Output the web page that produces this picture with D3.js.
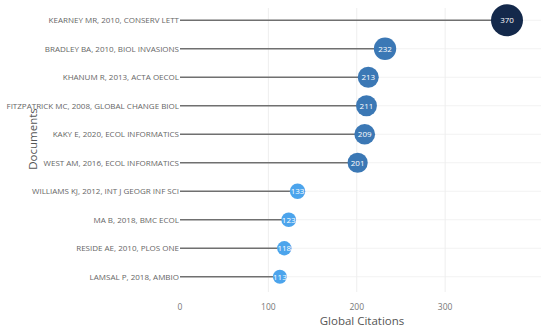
<!DOCTYPE html>
<html>
<head>
<meta charset="utf-8">
<script src="https://cdn.jsdelivr.net/npm/d3@7"></script>
<style>
  body { margin: 0; background: #fff; }
  text { font-family: "Open Sans", sans-serif; }
</style>
</head>
<body>
<div id="chart"></div>
<script>
// documents, top to bottom
var docs = [
  "KEARNEY MR, 2010, CONSERV LETT",
  "BRADLEY BA, 2010, BIOL INVASIONS",
  "KHANUM R, 2013, ACTA OECOL",
  "FITZPATRICK MC, 2008, GLOBAL CHANGE BIOL",
  "KAKY E, 2020, ECOL INFORMATICS",
  "WEST AM, 2016, ECOL INFORMATICS",
  "WILLIAMS KJ, 2012, INT J GEOGR INF SCI",
  "MA B, 2018, BMC ECOL",
  "RESIDE AE, 2010, PLOS ONE",
  "LAMSAL P, 2018, AMBIO"
];
var citations = [370, 232, 213, 211, 209, 201, 133, 123, 118, 113];
var xTicks = [0, 100, 200, 300];

var W = 550, H = 330;
var svg = d3.select("#chart").append("svg")
  .attr("width", W).attr("height", H);

var x = d3.scaleLinear().domain([0, 413]).range([180, 545]);
var y = d3.scaleBand().domain(docs).range([6, 291]).paddingInner(0).paddingOuter(0);
var r = d3.scaleLinear().domain([113, 370]).range([7, 16]);
var color = function(v) {
  if (v >= 300) return "#14294b";
  if (v >= 180) return "#3b78b5";
  return "#4ca4ec";
};
var cy = function(d) { return y(d) + y.bandwidth() / 2; };

// grid
svg.append("g").selectAll("line.h")
  .data(docs).enter().append("line")
  .attr("x1", x(0)).attr("x2", 541)
  .attr("y1", cy).attr("y2", cy)
  .attr("stroke", "#f2f2f2").attr("stroke-width", 1);
svg.append("g").selectAll("line.v")
  .data(xTicks.slice(1)).enter().append("line")
  .attr("x1", function(d) { return x(d); }).attr("x2", function(d) { return x(d); })
  .attr("y1", 8).attr("y2", 292)
  .attr("stroke", "#eeeeee").attr("stroke-width", 1);

// stems
svg.append("g").selectAll("line")
  .data(docs).enter().append("line")
  .attr("x1", x(0))
  .attr("x2", function(d, i) { return x(citations[i]); })
  .attr("y1", cy).attr("y2", cy)
  .attr("stroke", "#707070").attr("stroke-width", 1.5);

// dots
var dots = svg.append("g").selectAll("g")
  .data(docs).enter().append("g")
  .attr("transform", function(d, i) { return "translate(" + x(citations[i]) + "," + cy(d) + ")"; });
dots.append("circle")
  .attr("r", function(d, i) { return r(citations[i]); })
  .attr("fill", function(d, i) { return color(citations[i]); });
dots.append("text")
  .attr("text-anchor", "middle").attr("dy", "0.35em")
  .attr("fill", "#fff").style("font-size", "8px")
  .text(function(d, i) { return citations[i]; });

// y labels
svg.append("g").selectAll("text")
  .data(docs).enter().append("text")
  .attr("x", x(0) - 1).attr("y", cy).attr("dy", "0.35em")
  .attr("text-anchor", "end")
  .attr("fill", "#666").style("font-size", "8px")
  .text(function(d) { return d; });

// x tick labels
svg.append("g").selectAll("text")
  .data(xTicks).enter().append("text")
  .attr("x", function(d) { return x(d); }).attr("y", 310)
  .attr("text-anchor", "middle")
  .attr("fill", "#777").style("font-size", "8.5px")
  .text(function(d) { return d; });

// axis titles
svg.append("text")
  .attr("x", 362).attr("y", 325)
  .attr("text-anchor", "middle")
  .attr("fill", "#555").style("font-size", "11.5px")
  .text("Global Citations");
svg.append("text")
  .attr("transform", "translate(37,139) rotate(-90)")
  .attr("text-anchor", "middle")
  .attr("fill", "#555").style("font-size", "11.5px")
  .text("Documents");
</script>
</body>
</html>
